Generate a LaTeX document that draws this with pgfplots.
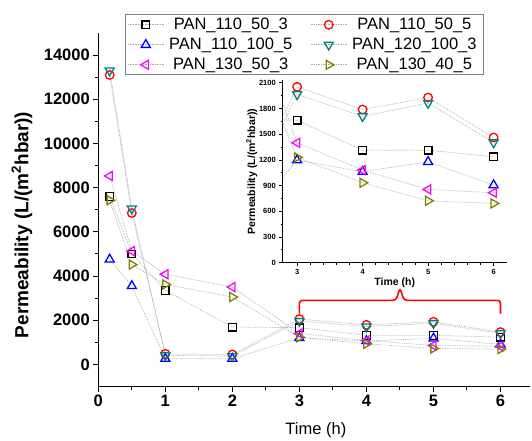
\documentclass[border=0pt]{standalone}
\usepackage{fontspec}
\setmainfont{Liberation Sans}
\usepackage{pgfplots}
\usepackage{pgfplotstable}
\pgfplotsset{compat=1.18}

\definecolor{cteal}{RGB}{0,128,128}
\definecolor{colive}{RGB}{128,128,0}
\definecolor{cmag}{RGB}{255,0,255}
\definecolor{cline}{RGB}{170,170,170}

\pgfplotstableread{
x s1 s2 s3 s4 s5 s6
0.17 7600 13100 4750 13300 8530 7430
0.5 5000 6850 3550 7050 5130 4515
1 3350 480 260 410 4080 3620
2 1690 450 260 376 3500 3050
3 1664 2053 1198 1965 1400 1229
4 1314 1789 1062 1710 1081 933
5 1314 1929 1178 1865 856 723
6 1237 1462 906 1404 817 692
}\data

\pgfplotsset{
  ser/.style={cline, densely dotted, line width=0.7pt},
  pA/.style={ser, mark=square, mark size=3.8pt, mark options={solid, draw=black, line width=1.3pt}},
  pB/.style={ser, mark=o, mark size=4.3pt, mark options={solid, draw=red, line width=1.3pt}},
  pC/.style={ser, mark=triangle, mark size=5.2pt, mark options={solid, draw=blue, line width=1.3pt}},
  pD/.style={ser, mark=triangle, mark size=5.2pt, mark options={solid, draw=cteal, line width=1.3pt, rotate=180}},
  pE/.style={ser, mark=triangle, mark size=5.2pt, mark options={solid, draw=cmag, line width=1.3pt, rotate=90}},
  pF/.style={ser, mark=triangle, mark size=5.2pt, mark options={solid, draw=colive, line width=1.3pt, rotate=-90}},
}

\begin{document}
\begin{tikzpicture}
\useasboundingbox (0bp,0bp) rectangle (532bp,441bp);
\begin{axis}[
  at={(98.3bp,54.5bp)}, anchor=south west, scale only axis,
  width=431.7bp, height=353.5bp,
  xmin=0, xmax=6.44, ymin=-1000, ymax=15000,
  axis lines*=left, tick align=outside,
  xtick={0,...,6}, minor x tick num=1,
  ytick={0,2000,...,14000}, minor y tick num=1,
  major tick length=5bp, minor tick length=3bp,
  every tick/.style={black, line width=1pt},
  axis line style={black, line width=1.2pt},
  tick label style={font=\fontsize{16.5bp}{18bp}\selectfont\bfseries},
  /pgf/number format/assume math mode=true,
  scaled y ticks=false, /pgf/number format/1000 sep={},
  xlabel={Time (h)},
  xlabel style={font=\fontsize{16.5bp}{18bp}\selectfont, at={(axis description cs:0.504,-0.123)}, anchor=center},
  ylabel={Permeability (L/(m\textsuperscript{2}hbar))},
  ylabel style={font=\fontsize{19bp}{21bp}\selectfont\bfseries, at={(axis description cs:-0.1767,0.457)}, anchor=center},
  legend columns=2,
  legend image code/.code={\draw[mark repeat=2, mark phase=2] plot coordinates {(0bp,0bp) (18bp,0bp) (36bp,0bp)};},
  legend style={at={(axis description cs:0.0618,1.0529)}, anchor=north west,
    draw=gray, line width=1pt, font=\fontsize{16.5bp}{18bp}\selectfont,
    inner xsep=2bp, inner ysep=0bp, row sep=0bp, column sep=0bp,
    nodes={text height=12bp, text depth=3bp, inner ysep=2.5bp, inner xsep=5bp},
    /tikz/every even column/.append style={column sep=13bp}},
]
\addplot[pA] table[x=x,y=s1]{\data}; \addlegendentry{PAN\_110\_50\_3}
\addplot[pB] table[x=x,y=s2]{\data}; \addlegendentry{PAN\_110\_50\_5}
\addplot[pC] table[x=x,y=s3]{\data}; \addlegendentry{PAN\_110\_100\_5}
\addplot[pD] table[x=x,y=s4]{\data}; \addlegendentry{PAN\_120\_100\_3}
\addplot[pE] table[x=x,y=s5]{\data}; \addlegendentry{PAN\_130\_50\_3}
\addplot[pF] table[x=x,y=s6]{\data}; \addlegendentry{PAN\_130\_40\_5}
\draw[red, line width=1.6pt, rounded corners=3pt]
  (axis cs:3,2300) |- (axis cs:4.44,2900) -- (axis cs:4.5,3450) -- (axis cs:4.56,2900) -| (axis cs:6,2300);
\end{axis}

\begin{axis}[
  at={(282.7bp,178.3bp)}, anchor=south west, scale only axis,
  width=224bp, height=182.4bp,
  xmin=2.78, xmax=6.2, ymin=0, ymax=2130,
  axis lines*=left, tick align=outside,
  xtick={3,4,5,6}, minor x tick num=4,
  ytick={0,300,...,2100}, minor y tick num=1,
  major tick length=3.5bp, minor tick length=2bp,
  every tick/.style={black, line width=0.8pt},
  axis line style={black, line width=1pt},
  tick label style={font=\fontsize{7.5bp}{9bp}\selectfont\bfseries},
  /pgf/number format/assume math mode=true,
  scaled y ticks=false, /pgf/number format/1000 sep={},
  xlabel={Time (h)},
  xlabel style={font=\fontsize{10.5bp}{12bp}\selectfont\bfseries, at={(axis description cs:0.5,-0.11)}, anchor=center},
  ylabel={Permeability (L/(m\textsuperscript{2}hbar))},
  ylabel style={font=\fontsize{10.5bp}{12bp}\selectfont\bfseries, at={(axis description cs:-0.138,0.5)}, anchor=center},
]
\addplot[pA] table[x=x,y=s1]{\data};
\addplot[pB] table[x=x,y=s2]{\data};
\addplot[pC] table[x=x,y=s3]{\data};
\addplot[pD] table[x=x,y=s4]{\data};
\addplot[pE] table[x=x,y=s5]{\data};
\addplot[pF] table[x=x,y=s6]{\data};
\end{axis}
\end{tikzpicture}
\end{document}
